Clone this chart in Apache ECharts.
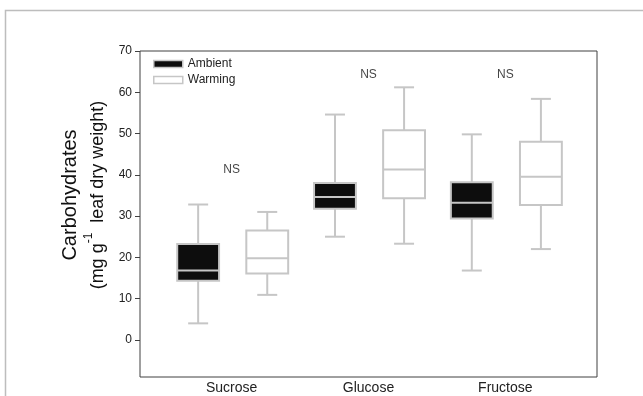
<!DOCTYPE html>
<html>
<head>
<meta charset="utf-8">
<script src="https://cdn.jsdelivr.net/npm/echarts@6/dist/echarts.min.js"></script>
<style>
  html, body { margin: 0; padding: 0; background: #fff; }
  #main { width: 643px; height: 396px; }
</style>
</head>
<body>
<div id="main"></div>
<script>
const categories = ["Sucrose", "Glucose", "Fructose"];
// [min, q1, median, q3, max]
const ambient = [
  [4.0, 14.3, 16.8, 23.2, 32.8],
  [25.0, 31.8, 34.6, 38.0, 54.6],
  [16.8, 29.4, 33.2, 38.2, 49.8]
];
const warming = [
  [10.9, 16.1, 19.8, 26.5, 31.0],
  [23.3, 34.3, 41.3, 50.8, 61.2],
  [22.0, 32.7, 39.5, 48.0, 58.4]
];
const nsY = [41.3, 64.2, 64.2];
const yTicks = [0, 10, 20, 30, 40, 50, 60, 70];

const FONT = "Liberation Sans";
const GRAY = "#c6c6c6";

let boxData = (arr) => arr.map((d, i) => [i + 1].concat(d));

let makeBox = (offset, fill) => {
  return (params, api) => {
    let x = api.value(0) + offset;
    let hw = 0.153, cap = 0.073;
    let pMin = api.coord([x, api.value(1)]);
    let pQ1 = api.coord([x, api.value(2)]);
    let pMed = api.coord([x, api.value(3)]);
    let pQ3 = api.coord([x, api.value(4)]);
    let pMax = api.coord([x, api.value(5)]);
    let left = api.coord([x - hw, 0])[0];
    let right = api.coord([x + hw, 0])[0];
    let cl = api.coord([x - cap, 0])[0];
    let cr = api.coord([x + cap, 0])[0];
    let line = { stroke: GRAY, lineWidth: 2 };
    return {
      type: "group",
      children: [
        { type: "line", shape: { x1: pMax[0], y1: pMax[1], x2: pQ3[0], y2: pQ3[1] }, style: line },
        { type: "line", shape: { x1: pMin[0], y1: pMin[1], x2: pQ1[0], y2: pQ1[1] }, style: line },
        { type: "line", shape: { x1: cl, y1: pMax[1], x2: cr, y2: pMax[1] }, style: line },
        { type: "line", shape: { x1: cl, y1: pMin[1], x2: cr, y2: pMin[1] }, style: line },
        {
          type: "rect",
          shape: { x: left, y: pQ3[1], width: right - left, height: pQ1[1] - pQ3[1] },
          style: { fill: fill, stroke: GRAY, lineWidth: 2 }
        },
        { type: "line", shape: { x1: left, y1: pMed[1], x2: right, y2: pMed[1] }, style: line }
      ]
    };
  };
};

let option = {
  animation: false,
  backgroundColor: "#fff",
  textStyle: { fontFamily: FONT },
  graphic: [
    {
      type: "rect",
      shape: { x: 5.5, y: 10.5, width: 700, height: 500 },
      style: { fill: "none", stroke: "#bdbdbd", lineWidth: 1.5 },
      silent: true
    }
  ],
  grid: {
    left: 140,
    right: 46,
    top: 51,
    bottom: 19,
    show: true,
    borderColor: "#404040",
    borderWidth: 1
  },
  legend: {
    orient: "vertical",
    left: 153,
    top: 58,
    padding: 0,
    itemWidth: 29,
    itemHeight: 7,
    itemGap: 4,
    textStyle: { fontFamily: FONT, fontSize: 12, color: "#222" },
    data: [
      { name: "Ambient", icon: "rect", itemStyle: { color: "#0d0d0d", borderColor: GRAY, borderWidth: 1.5 } },
      { name: "Warming", icon: "rect", itemStyle: { color: "#fff", borderColor: GRAY, borderWidth: 1.5 } }
    ]
  },
  xAxis: {
    type: "value",
    min: 0.33,
    max: 3.67,
    axisLine: { show: false },
    axisTick: { show: false },
    splitLine: { show: false },
    axisLabel: {
      customValues: [1, 2, 3],
      formatter: (v) => categories[Math.round(v) - 1],
      fontFamily: FONT,
      fontSize: 14,
      color: "#222",
      margin: 4
    }
  },
  yAxis: {
    type: "value",
    min: -9,
    max: 70,
    name: "{a|Carbohydrates}\n{b|(mg g}{sup|-1}{b|  leaf dry weight)}",
    nameLocation: "middle",
    nameGap: 33,
    nameRotate: 90,
    nameTextStyle: {
      fontFamily: FONT,
      color: "#111",
      padding: [0, 0, 0, 38],
      rich: {
        a: { fontSize: 20, lineHeight: 26, fontFamily: FONT, color: "#111" },
        b: { fontSize: 18, lineHeight: 24, fontFamily: FONT, color: "#111", verticalAlign: "bottom" },
        sup: { fontSize: 12, lineHeight: 24, fontFamily: FONT, color: "#111", verticalAlign: "top" }
      }
    },
    axisLine: { show: false },
    splitLine: { show: false },
    axisTick: {
      show: true,
      customValues: yTicks,
      length: 5,
      lineStyle: { color: "#404040" }
    },
    axisLabel: {
      customValues: yTicks,
      fontFamily: FONT,
      fontSize: 12,
      color: "#222",
      margin: 8
    }
  },
  series: [
    {
      name: "Ambient",
      type: "custom",
      renderItem: makeBox(-0.245, "#0d0d0d"),
      itemStyle: { color: "#0d0d0d" },
      encode: { x: 0, y: [1, 2, 3, 4, 5] },
      data: boxData(ambient),
      z: 3
    },
    {
      name: "Warming",
      type: "custom",
      renderItem: makeBox(0.26, "#ffffff"),
      itemStyle: { color: "#ffffff" },
      encode: { x: 0, y: [1, 2, 3, 4, 5] },
      data: boxData(warming),
      z: 3
    },
    {
      name: "NS",
      type: "scatter",
      symbolSize: 1,
      itemStyle: { color: "rgba(0,0,0,0)" },
      silent: true,
      label: {
        show: true,
        position: "inside",
        formatter: "NS",
        fontFamily: FONT,
        fontSize: 12,
        color: "#111"
      },
      data: nsY.map((v, i) => [i + 1, v])
    }
  ]
};

var myChart = echarts.init(document.getElementById("main"));
myChart.setOption(option);
</script>
</body>
</html>
